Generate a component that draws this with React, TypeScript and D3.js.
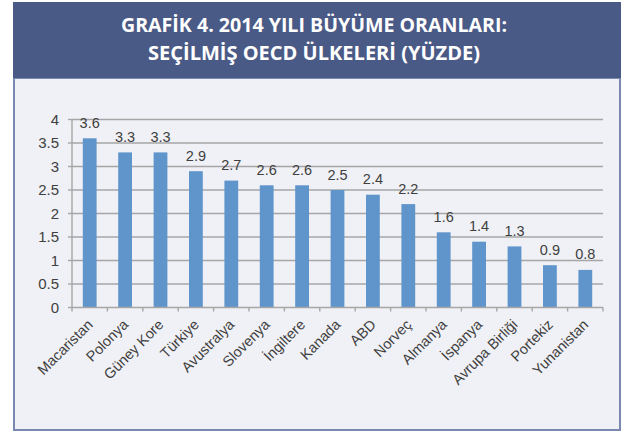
import React from "react";
import * as d3 from "d3";

const categories = [
  "Macaristan", "Polonya", "Güney Kore", "Türkiye", "Avustralya", "Slovenya",
  "İngiltere", "Kanada", "ABD", "Norveç", "Almanya", "İspanya",
  "Avrupa Birliği", "Portekiz", "Yunanistan",
];
const values = [3.6, 3.3, 3.3, 2.9, 2.7, 2.6, 2.6, 2.5, 2.4, 2.2, 1.6, 1.4, 1.3, 0.9, 0.8];
const yTicks = [0, 0.5, 1, 1.5, 2, 2.5, 3, 3.5, 4];
const titleLines = ["GRAFİK 4. 2014 YILI BÜYÜME ORANLARI:", "SEÇİLMİŞ OECD ÜLKELERİ (YÜZDE)"];

const W = 621;
const H = 432;
const plot = { left: 72, right: 603, top: 119.5, bottom: 307.5 };

export default function App() {
  const x = d3
    .scaleBand<string>()
    .domain(categories)
    .range([plot.left, plot.right])
    .paddingInner(0.61)
    .paddingOuter(0.305);
  const xOuter = d3.scaleBand<string>().domain(categories).range([plot.left, plot.right]);
  const y = d3.scaleLinear().domain([0, 4]).range([plot.bottom, plot.top]);
  const gridColor = "#a6a6a6";
  const textColor = "#404040";
  const font = "'Liberation Sans', Arial, sans-serif";

  const boundaries = categories.map((c) => xOuter(c) as number).concat([plot.right]);

  return (
    <div style={{ position: "fixed", left: 0, top: 0 }}>
      <svg width={W} height={H} style={{ display: "block" }}>
        <rect x={0} y={0} width={W} height={H} fill="#ffffff" />
        <rect x={14} y={78} width={606} height={352} fill="#f0f1f6" stroke="#7a88b2" strokeWidth={2} />
        <rect x={13} y={2} width={608} height={76} fill="#4a5a86" />
        {titleLines.map((t, i) => (
          <text
            key={i}
            x={314}
            y={32 + i * 28}
            textAnchor="middle"
            fill="#ffffff"
            fontFamily="'Open Sans', 'Noto Sans', sans-serif"
            fontWeight="bold"
            fontSize={20}
            textLength={i === 0 ? 386 : 332}
            lengthAdjust="spacingAndGlyphs"
          >
            {t}
          </text>
        ))}

        {/* gridlines */}
        {yTicks.filter((t) => t > 0).map((t) => (
          <line key={t} x1={plot.left} x2={plot.right} y1={y(t)} y2={y(t)} stroke={gridColor} strokeWidth={1.4} />
        ))}
        {/* y axis */}
        <line x1={plot.left} x2={plot.left} y1={plot.top} y2={plot.bottom} stroke={gridColor} strokeWidth={1.4} />
        {yTicks.map((t) => (
          <g key={"yt" + t}>
            <line x1={plot.left - 4} x2={plot.left} y1={y(t)} y2={y(t)} stroke={gridColor} strokeWidth={1.4} />
            <text
              x={59}
              y={y(t)}
              dy="0.36em"
              textAnchor="end"
              fill={textColor}
              fontFamily={font}
              fontSize={15}
            >
              {String(t)}
            </text>
          </g>
        ))}

        {/* bars */}
        {categories.map((c, i) => (
          <rect
            key={c}
            x={x(c)}
            y={y(values[i])}
            width={x.bandwidth()}
            height={y(0) - y(values[i])}
            fill="#5f95ca"
          />
        ))}

        {/* x axis */}
        <line x1={plot.left} x2={plot.right} y1={plot.bottom} y2={plot.bottom} stroke={gridColor} strokeWidth={1.4} />
        {boundaries.map((b, i) => (
          <line key={"xt" + i} x1={b} x2={b} y1={plot.bottom} y2={plot.bottom + 4} stroke={gridColor} strokeWidth={1.4} />
        ))}

        {/* data labels */}
        {categories.map((c, i) => (
          <text
            key={"dl" + c}
            x={(x(c) as number) + x.bandwidth() / 2}
            y={y(values[i]) - 10.5}
            textAnchor="middle"
            fill={textColor}
            fontFamily={font}
            fontSize={14.5}
          >
            {values[i].toFixed(1)}
          </text>
        ))}

        {/* category labels */}
        {categories.map((c) => {
          const cx = (x(c) as number) + x.bandwidth() / 2 + 4;
          const cy = plot.bottom + 18;
          return (
            <text
              key={"cl" + c}
              x={cx}
              y={cy}
              transform={`rotate(-45, ${cx}, ${cy})`}
              textAnchor="end"
              fill={textColor}
              fontFamily={font}
              fontSize={14.5}
            >
              {c}
            </text>
          );
        })}
      </svg>
    </div>
  );
}
